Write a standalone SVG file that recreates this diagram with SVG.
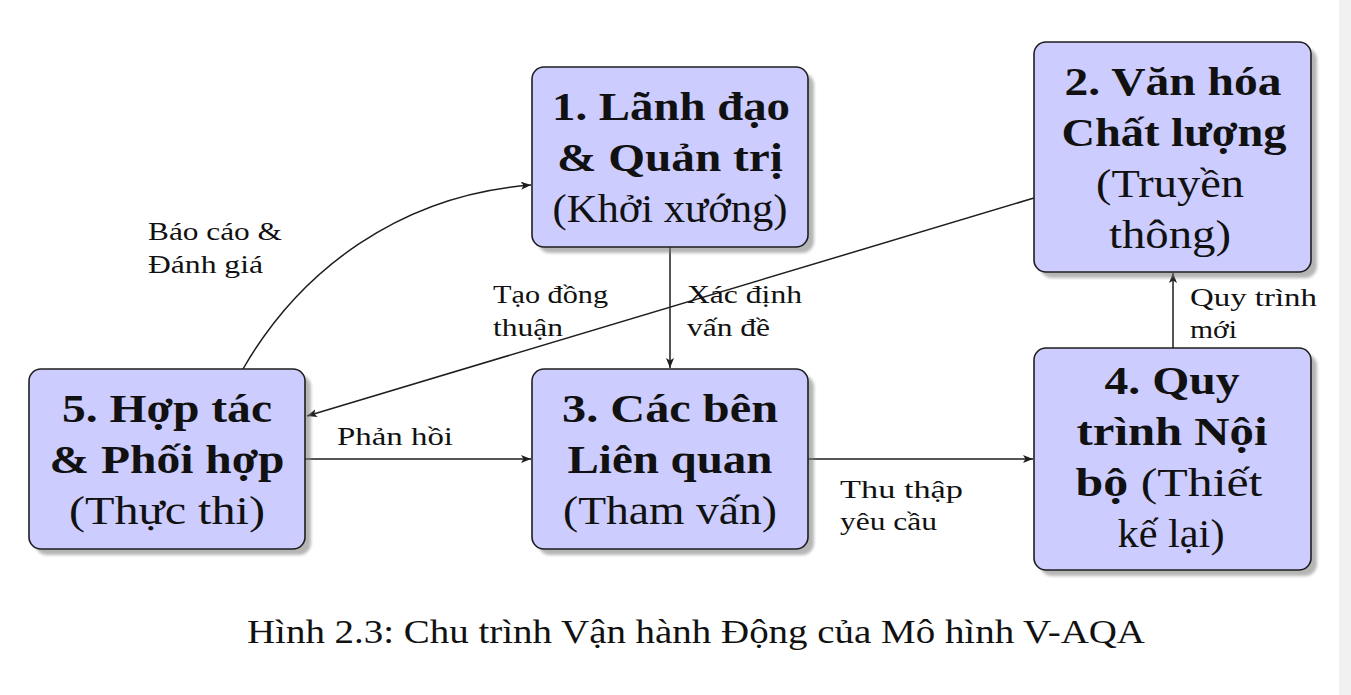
<svg xmlns="http://www.w3.org/2000/svg" width="1351" height="695" viewBox="0 0 1351 695">
<style>
.box{fill:#ccccff;stroke:#1e1e1e;stroke-width:1.6}
.sh{fill:#7a7a7a;opacity:0.55;filter:url(#blur)}
.nt{font-family:"Liberation Serif","DejaVu Serif",serif;font-size:41px;fill:#111;text-anchor:middle}
.b{font-weight:bold}
.lb{font-family:"Liberation Serif","DejaVu Serif",serif;font-size:25px;fill:#111}
.cap{font-family:"Liberation Serif","DejaVu Serif",serif;font-size:34px;fill:#111}
.edge{fill:none;stroke:#1e1e1e;stroke-width:1.5;marker-end:url(#arr)}
</style>
<defs>
<filter id="blur" x="-10%" y="-10%" width="120%" height="120%"><feGaussianBlur stdDeviation="1.5"/></filter>
<marker id="arr" markerUnits="userSpaceOnUse" markerWidth="12" markerHeight="10" refX="10" refY="4" orient="auto">
<path d="M0,0 L10,4 L0,8 L2.5,4 z" fill="#1e1e1e"/>
</marker>
</defs>
<rect x="0" y="0" width="1351" height="695" fill="#ffffff"/>
<rect x="1339" y="0" width="12" height="695" fill="#f0f0f0"/>

<g id="connectors">
<path class="edge" d="M243,369 C300,270 400,195 531,185"/>
<path class="edge" d="M670,247 L670,368"/>
<path class="edge" d="M1034,198 L307,416"/>
<path class="edge" d="M305,459 L531,459"/>
<path class="edge" d="M808,459 L1033,459"/>
<path class="edge" d="M1173,348 L1173,273"/>
</g>

<g id="edge-labels">
<text class="lb" x="148" y="240" textLength="134" lengthAdjust="spacingAndGlyphs">Báo cáo &amp;</text>
<text class="lb" x="148" y="273" textLength="115" lengthAdjust="spacingAndGlyphs">Đánh giá</text>
<text class="lb" x="493" y="303" textLength="115" lengthAdjust="spacingAndGlyphs">Tạo đồng</text>
<text class="lb" x="493" y="336" textLength="70" lengthAdjust="spacingAndGlyphs">thuận</text>
<text class="lb" x="687" y="303" textLength="115" lengthAdjust="spacingAndGlyphs">Xác định</text>
<text class="lb" x="687" y="336" textLength="83" lengthAdjust="spacingAndGlyphs">vấn đề</text>
<text class="lb" x="337" y="445" textLength="116" lengthAdjust="spacingAndGlyphs">Phản hồi</text>
<text class="lb" x="840" y="498" textLength="123" lengthAdjust="spacingAndGlyphs">Thu thập</text>
<text class="lb" x="840" y="530" textLength="97" lengthAdjust="spacingAndGlyphs">yêu cầu</text>
<text class="lb" x="1190" y="306" textLength="127" lengthAdjust="spacingAndGlyphs">Quy trình</text>
<text class="lb" x="1190" y="338" textLength="47" lengthAdjust="spacingAndGlyphs">mới</text>
</g>

<g id="node1">
<rect class="sh" x="538" y="73" width="276" height="180" rx="12"/>
<rect class="box" x="532" y="67" width="276" height="180" rx="12"/>
<text class="nt b" x="671" y="120" textLength="238" lengthAdjust="spacingAndGlyphs">1. Lãnh đạo</text>
<text class="nt b" x="670" y="171" textLength="226" lengthAdjust="spacingAndGlyphs">&amp; Quản trị</text>
<text class="nt" x="670" y="222" textLength="235" lengthAdjust="spacingAndGlyphs">(Khởi xướng)</text>
</g>

<g id="node2">
<rect class="sh" x="1040" y="48" width="277" height="230" rx="12"/>
<rect class="box" x="1034" y="42" width="277" height="230" rx="12"/>
<text class="nt b" x="1173" y="95" textLength="217" lengthAdjust="spacingAndGlyphs">2. Văn hóa</text>
<text class="nt b" x="1174" y="146" textLength="225" lengthAdjust="spacingAndGlyphs">Chất lượng</text>
<text class="nt" x="1170" y="197" textLength="148" lengthAdjust="spacingAndGlyphs">(Truyền</text>
<text class="nt" x="1170" y="248" textLength="122" lengthAdjust="spacingAndGlyphs">thông)</text>
</g>

<g id="node3">
<rect class="sh" x="538" y="375" width="276" height="180" rx="12"/>
<rect class="box" x="532" y="369" width="276" height="180" rx="12"/>
<text class="nt b" x="670" y="422" textLength="216" lengthAdjust="spacingAndGlyphs">3. Các bên</text>
<text class="nt b" x="670" y="473" textLength="205" lengthAdjust="spacingAndGlyphs">Liên quan</text>
<text class="nt" x="670" y="524" textLength="214" lengthAdjust="spacingAndGlyphs">(Tham vấn)</text>
</g>

<g id="node4">
<rect class="sh" x="1040" y="354" width="277" height="222" rx="12"/>
<rect class="box" x="1034" y="348" width="277" height="222" rx="12"/>
<text class="nt b" x="1172" y="394" textLength="135" lengthAdjust="spacingAndGlyphs">4. Quy</text>
<text class="nt b" x="1172" y="445" textLength="191" lengthAdjust="spacingAndGlyphs">trình Nội</text>
<text class="nt" x="1169" y="496" textLength="187" lengthAdjust="spacingAndGlyphs"><tspan font-weight="bold">bộ</tspan> (Thiết</text>
<text class="nt" x="1171" y="547" textLength="107" lengthAdjust="spacingAndGlyphs">kế lại)</text>
</g>

<g id="node5">
<rect class="sh" x="35" y="375" width="276" height="180" rx="12"/>
<rect class="box" x="29" y="369" width="276" height="180" rx="12"/>
<text class="nt b" x="167" y="422" textLength="210" lengthAdjust="spacingAndGlyphs">5. Hợp tác</text>
<text class="nt b" x="167" y="473" textLength="235" lengthAdjust="spacingAndGlyphs">&amp; Phối hợp</text>
<text class="nt" x="167" y="524" textLength="196" lengthAdjust="spacingAndGlyphs">(Thực thi)</text>
</g>

<g id="caption">
<text class="cap" x="247" y="643" textLength="898" lengthAdjust="spacingAndGlyphs">Hình 2.3: Chu trình Vận hành Động của Mô hình V-AQA</text>
</g>
</svg>
